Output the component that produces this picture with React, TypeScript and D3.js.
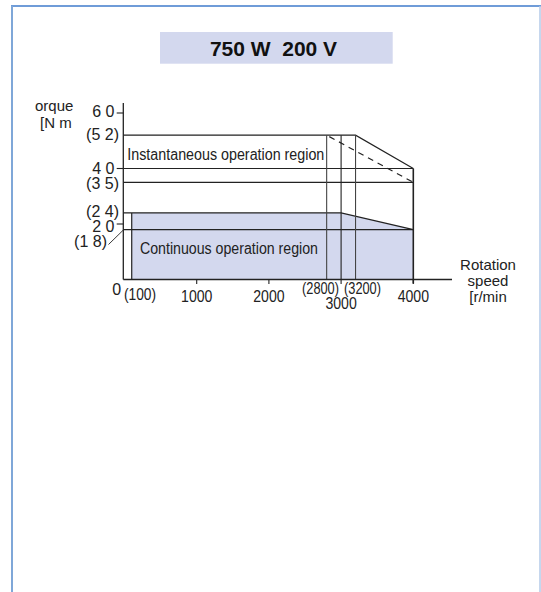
import React from "react";
import * as d3 from "d3";

const title = "750 W  200 V";
const yAxisTitle = ["orque", "[N m"];
const xAxisTitle = ["Rotation", "speed", "[r/min"];

// torque axis ticks
const torqueTicks = [20, 40, 60];
const torqueTickLabels = ["2 0", "4 0", "6 0"];
// bracketed torque reference values
const torqueRefValues = [52, 35, 24, 18];
const torqueRefLabels = ["(5 2)", "(3 5)", "(2 4)", "(1 8)"];

// speed axis ticks
const speedTicks = [1000, 2000, 3000, 4000];
const speedTickLabels = ["1000", "2000", "3000", "4000"];
const speedRefValues = [100, 2800, 3200];
const speedRefLabels = ["(100)", "(2800)", "(3200)"];

// instantaneous region boundary
const instSpeeds = [0, 3200, 4000];
const instTorque = [52, 52, 40];
// continuous region boundary
const contSpeeds = [100, 3000, 4000];
const contTorque = [24, 24, 18];
// dashed boundary
const dashSpeeds = [2800, 4000];
const dashTorque = [52, 35];
// horizontal reference lines (from axis to 4000)
const hLines = [40, 35, 18];
// vertical reference lines (from 52 down to 0)
const vLines = [2800, 3000, 3200];

const FONT = "'Liberation Sans', Arial, Helvetica, sans-serif";
const INK = "#222";

export default function App() {
  const x = d3.scaleLinear().domain([0, 4000]).range([124.5, 413.3]);
  const y = d3.scaleLinear().domain([0, 60]).range([279.5, 113]);
  const x0 = 123.3;
  const maxS = 4000;

  const line = d3
    .line<[number, number]>()
    .x((d) => x(d[0]))
    .y((d) => y(d[1]));

  const contPoly: [number, number][] = [
    [contSpeeds[0], 0],
    ...contSpeeds.map((s, i) => [s, contTorque[i]] as [number, number]),
    [contSpeeds[contSpeeds.length - 1], 0],
  ];
  const instPts = instSpeeds.map((s, i) => [s, instTorque[i]] as [number, number]);
  const contPts = contSpeeds.map((s, i) => [s, contTorque[i]] as [number, number]);
  const dashPts = dashSpeeds.map((s, i) => [s, dashTorque[i]] as [number, number]);

  const xLabelBase = (v: number) => (v === 3000 ? 309 : 301.5);
  const refLabelPos: Record<number, { cx: number; by: number }> = {
    100: { cx: 140, by: 300 },
    2800: { cx: 320.5, by: 293.5 },
    3200: { cx: 362.5, by: 293.5 },
  };
  const yRefPos: Record<number, { ex: number; by: number }> = {
    52: { ex: 119, by: 139.5 },
    35: { ex: 119, by: 188.5 },
    24: { ex: 119, by: 216.5 },
    18: { ex: 107, by: 246.5 },
  };
  const yTickBase: Record<number, number> = { 60: 116.8, 40: 174, 20: 232 };

  const narrow = (
    txt: string,
    cx: number,
    by: number,
    anchor: "start" | "middle" | "end",
    sx: number,
    key?: string
  ) => (
    <text
      key={key}
      transform={`translate(${cx},${by}) scale(${sx},1)`}
      textAnchor={anchor}
      fontSize={16}
      fill={INK}
    >
      {txt}
    </text>
  );

  return (
    <svg
      width={541}
      height={592}
      style={{ position: "fixed", left: 0, top: 0, background: "#fff" }}
      fontFamily={FONT}
    >
      {/* frame */}
      <line x1={11} y1={6} x2={541} y2={6} stroke="#3f7bcb" strokeWidth={1.6} />
      <line x1={12} y1={6} x2={12} y2={592} stroke="#7fa7d8" strokeWidth={2} />
      <line x1={540} y1={6} x2={540} y2={592} stroke="#b3cae8" strokeWidth={1.5} />

      {/* title */}
      <rect x={160} y={32} width={232.7} height={31.7} fill="#d3d8ee" />
      <text
        x={273.5}
        y={56.3}
        textAnchor="middle"
        fontSize={21}
        fontWeight="bold"
        fill="#111"
        style={{ whiteSpace: "pre" }}
      >
        {title}
      </text>

      {/* continuous fill */}
      <path d={line(contPoly) + "Z"} fill="#d3d8ee" stroke="none" />

      {/* horizontal reference lines */}
      {hLines.map((t) => (
        <line key={"h" + t} x1={x0} x2={x(maxS)} y1={y(t)} y2={y(t)} stroke={INK} strokeWidth={1.2} />
      ))}
      {/* 52 top line + slope */}
      <path d={`M${x0},${y(instTorque[0])}` + line(instPts.slice(1))!.replace("M", "L")} fill="none" stroke={INK} strokeWidth={1.2} />
      {/* 24 top line + slope */}
      <path d={`M${x0},${y(contTorque[0])}` + line(contPts)!.replace("M", "L")} fill="none" stroke={INK} strokeWidth={1.2} />
      {/* continuous left edge */}
      <line x1={x(contSpeeds[0])} x2={x(contSpeeds[0])} y1={y(contTorque[0])} y2={y(0)} stroke={INK} strokeWidth={1.2} />
      {/* vertical reference lines */}
      {vLines.map((s) => (
        <line
          key={"v" + s}
          x1={x(s)}
          x2={x(s)}
          y1={y(52)}
          y2={y(0)}
          stroke={s === 3000 ? INK : "#444"}
          strokeWidth={1.1}
        />
      ))}
      {/* 4000 right edge */}
      <line x1={x(maxS)} x2={x(maxS)} y1={y(instTorque[2])} y2={y(0) + 4} stroke={INK} strokeWidth={1.6} />
      {/* dashed */}
      <path d={line(dashPts)!} fill="none" stroke={INK} strokeWidth={1.2} strokeDasharray="6,5" strokeDashoffset={-3} />

      {/* axes */}
      <line x1={x0} x2={x0} y1={103} y2={y(0)} stroke={INK} strokeWidth={1.3} />
      <line x1={x0} x2={452} y1={y(0)} y2={y(0)} stroke={INK} strokeWidth={1.3} />
      {torqueTicks.map((t) => (
        <line key={"yt" + t} x1={116.7} x2={x0} y1={y(t)} y2={y(t)} stroke={INK} strokeWidth={1.1} />
      ))}
      {speedTicks.map((s) => (
        <line key={"xt" + s} x1={x(s)} x2={x(s)} y1={y(0)} y2={y(0) + 4.5} stroke={INK} strokeWidth={1.1} />
      ))}

      {/* leader for (1 8) */}
      <line x1={108.5} y1={244.5} x2={x0} y2={y(18) + 0.5} stroke={INK} strokeWidth={0.9} />

      {/* y labels */}
      {torqueTicks.map((t, i) => (
        <text key={"yl" + t} x={114.5} y={yTickBase[t]} textAnchor="end" fontSize={16} fill={INK}>
          {torqueTickLabels[i]}
        </text>
      ))}
      {torqueRefValues.map((t, i) => (
        <text key={"yr" + t} x={yRefPos[t].ex} y={yRefPos[t].by} textAnchor="end" fontSize={16} fill={INK}>
          {torqueRefLabels[i]}
        </text>
      ))}
      <text x={116.7} y={295} textAnchor="middle" fontSize={16} fill={INK}>0</text>

      {/* x labels */}
      {speedTicks.map((s, i) => narrow(speedTickLabels[i], x(s), xLabelBase(s), "middle", 0.88, "xl" + s))}
      {speedRefValues.map((s, i) =>
        narrow(speedRefLabels[i], refLabelPos[s].cx, refLabelPos[s].by, "middle", s === 100 ? 0.86 : 0.8, "xr" + s)
      )}

      {/* region labels */}
      <text x={127.3} y={159.7} fontSize={16} fill={INK} textLength={197} lengthAdjust="spacingAndGlyphs">
        Instantaneous operation region
      </text>
      <text x={140} y={253.5} fontSize={16} fill={INK} textLength={178} lengthAdjust="spacingAndGlyphs">
        Continuous operation region
      </text>

      {/* axis titles */}
      <text x={35} y={111.3} fontSize={15} fill={INK}>{yAxisTitle[0]}</text>
      <text x={40} y={128} fontSize={15} fill={INK}>{yAxisTitle[1]}</text>
      {xAxisTitle.map((t, i) => (
        <text key={t} x={488} y={270 + i * 16} textAnchor="middle" fontSize={15} fill={INK}>
          {t}
        </text>
      ))}
    </svg>
  );
}
